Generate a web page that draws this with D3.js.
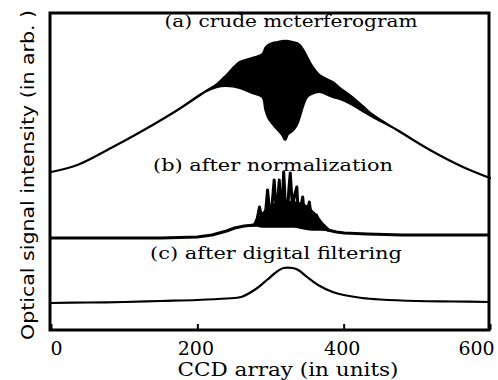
<!DOCTYPE html>
<html>
<head>
<meta charset="utf-8">
<script src="https://cdn.jsdelivr.net/npm/d3@7"></script>
<style>
  body { margin: 0; background: #fff; }
</style>
</head>
<body>
<div id="chart_div"></div>
<script>
// CCD pixel index and intensity (arb.)
var ccd_a = [0, 36, 82, 127, 173, 210, 227, 240, 258, 275, 289, 293, 297, 303, 310, 316, 320, 324, 330, 336, 340, 345, 350, 356, 367, 385, 395, 410, 426, 440, 473, 518, 563, 600];
var upper_a = [158, 165, 182, 200, 220, 238, 246, 255, 268, 272, 276, 282, 285, 287, 288, 289, 289, 289, 288, 287, 285, 280, 273, 265, 255, 248, 242, 234, 224, 215, 200, 180, 163, 152];
var lower_a = [158, 165, 182, 200, 220, 238, 243, 244, 242, 237, 233, 220, 212, 206, 200, 195, 190, 196, 199, 205, 213, 225, 233, 236, 238, 233, 231, 226, 219, 213, 200, 180, 163, 152];

var ccd_b = [0, 100, 150, 200, 220, 240, 251, 264, 278, 282, 285, 289, 292, 296, 299, 301, 305, 308, 310, 312, 315, 318, 320, 323, 325, 327, 330, 333, 336, 338, 340, 342, 344, 347, 349, 351, 353, 356, 358, 361, 363, 366, 370, 378, 390, 401, 432, 480, 540, 600];
var norm_b = [92, 92, 92, 93, 95, 99, 102, 104, 105, 112, 123, 108, 107, 140, 116, 115, 150, 118, 130, 150, 108, 158, 130, 112, 140, 157, 122, 135, 143, 115, 108, 125, 133, 108, 110, 120, 128, 112, 105, 112, 115, 106, 103, 100, 98, 97, 96, 95, 95, 95];
// dense fringe bulk of (b)
var bulk_ccd_b = [264, 278, 282, 288, 296, 305, 319, 333, 340, 347, 356, 364, 370, 381];
var bulk_hi_b = [104, 106, 110, 116, 122, 126, 128, 128, 127, 125, 120, 114, 108, 100];
var bulk_lo_b = [104, 104, 104, 103, 103, 103, 103, 103, 102, 101, 100, 100, 100, 99];

var ccd_c = [0, 50, 100, 150, 200, 240, 260, 280, 295, 310, 318, 330, 338, 350, 365, 385, 400, 425, 450, 500, 550, 600];
var filt_c = [27, 27.5, 28, 29, 30, 31.5, 33, 41, 50, 59, 62, 62, 60, 53, 45, 38, 35, 32, 30.5, 29, 28.5, 28];

var x_ticks = [0, 200, 400, 600];
var trace_labels = ['(a) crude mcterferogram', '(b) after normalization', '(c) after digital filtering'];
var x_title = 'CCD array (in units)';
var y_title = 'Optical signal intensity (in arb. )';

function draw_chart(){
  var W = 498, H = 380;
  var frame = {left: 50, top: 13, right: 489, bottom: 330};

  var svg = d3.select('#chart_div').append('svg')
    .attr('width', W)
    .attr('height', H)
    .style('display', 'block');

  var xScale = d3.scaleLinear().domain([0, 600]).range([51, 490]);
  var yScale = d3.scaleLinear().domain([0, 317]).range([330, 13]);

  // (a) dense fringes drawn as the band between the two envelopes
  var data_a = ccd_a.map(function(d, i){ return {x: d, hi: upper_a[i], lo: lower_a[i]}; });
  var band = d3.area()
    .x(function(d){ return xScale(d.x); })
    .y0(function(d){ return yScale(d.lo); })
    .y1(function(d){ return yScale(d.hi); })
    .curve(d3.curveCatmullRom.alpha(0.5));

  svg.append('path')
    .datum(data_a)
    .attr('d', band)
    .style('fill', '#000')
    .style('stroke', '#000')
    .style('stroke-width', '2.2px')
    .style('stroke-linejoin', 'round');

  // (b) normalized trace: fringe bulk + spikes
  var data_bulk = bulk_ccd_b.map(function(d, i){ return {x: d, hi: bulk_hi_b[i], lo: bulk_lo_b[i]}; });
  svg.append('path')
    .datum(data_bulk)
    .attr('d', band)
    .style('fill', '#000')
    .style('stroke', '#000')
    .style('stroke-width', '1.5px');

  var data_b = ccd_b.map(function(d, i){ return {x: d, y: norm_b[i]}; });
  var line_b = d3.line()
    .x(function(d){ return xScale(d.x); })
    .y(function(d){ return yScale(d.y); });

  svg.append('path')
    .datum(data_b)
    .attr('d', line_b)
    .attr('fill', 'none')
    .style('stroke', '#000')
    .style('stroke-width', '3px')
    .style('stroke-linejoin', 'round');

  // (c) filtered trace
  var data_c = ccd_c.map(function(d, i){ return {x: d, y: filt_c[i]}; });
  var line_c = d3.line()
    .x(function(d){ return xScale(d.x); })
    .y(function(d){ return yScale(d.y); })
    .curve(d3.curveCatmullRom.alpha(0.5));

  svg.append('path')
    .datum(data_c)
    .attr('d', line_c)
    .attr('fill', 'none')
    .style('stroke', '#000')
    .style('stroke-width', '2.2px');

  // frame
  svg.append('rect')
    .attr('x', frame.left)
    .attr('y', frame.top)
    .attr('width', frame.right - frame.left)
    .attr('height', frame.bottom - frame.top)
    .attr('fill', 'none')
    .style('stroke', '#000')
    .style('stroke-width', '3px');

  // x axis, ticks point inward
  var xaxis = svg.append('g')
    .attr('class', 'xaxis')
    .attr('transform', 'translate(0,' + frame.bottom + ')')
    .call(d3.axisBottom(xScale).tickValues(x_ticks).tickSize(-6).tickPadding(12).tickFormat(d3.format('d')));

  xaxis.select('path.domain').remove();
  xaxis.selectAll('.tick line')
    .style('stroke', '#000')
    .style('stroke-width', '2px');
  xaxis.selectAll('.tick text')
    .style('fill', '#000')
    .style('font-family', '"DejaVu Serif", serif')
    .style('font-size', '19px')
    .attr('dx', function(d){ return d == 0 ? 5 : (d == 600 ? -14 : -2); });

  // trace labels
  var label_pos = [[291, 27, 253], [273, 171, 240], [276, 259, 252]];
  svg.selectAll('text.trace')
    .data(trace_labels)
    .enter().append('text')
    .attr('class', 'trace')
    .attr('text-anchor', 'middle')
    .attr('x', function(d, i){ return label_pos[i][0]; })
    .attr('y', function(d, i){ return label_pos[i][1]; })
    .attr('textLength', function(d, i){ return label_pos[i][2]; })
    .attr('lengthAdjust', 'spacingAndGlyphs')
    .style('font-family', '"DejaVu Serif", serif')
    .style('font-size', '17px')
    .text(function(d){ return d; });

  svg.append('text')
    .attr('text-anchor', 'middle')
    .attr('x', 288)
    .attr('y', 376)
    .attr('textLength', 221)
    .attr('lengthAdjust', 'spacingAndGlyphs')
    .style('font-family', '"DejaVu Serif", serif')
    .style('font-size', '18px')
    .text(x_title);

  svg.append('text')
    .attr('text-anchor', 'middle')
    .attr('transform', 'translate(34,175) rotate(-90)')
    .attr('textLength', 330)
    .attr('lengthAdjust', 'spacingAndGlyphs')
    .style('font-family', '"DejaVu Sans", sans-serif')
    .style('font-size', '17px')
    .text(y_title);
}

draw_chart();
</script>
</body>
</html>
